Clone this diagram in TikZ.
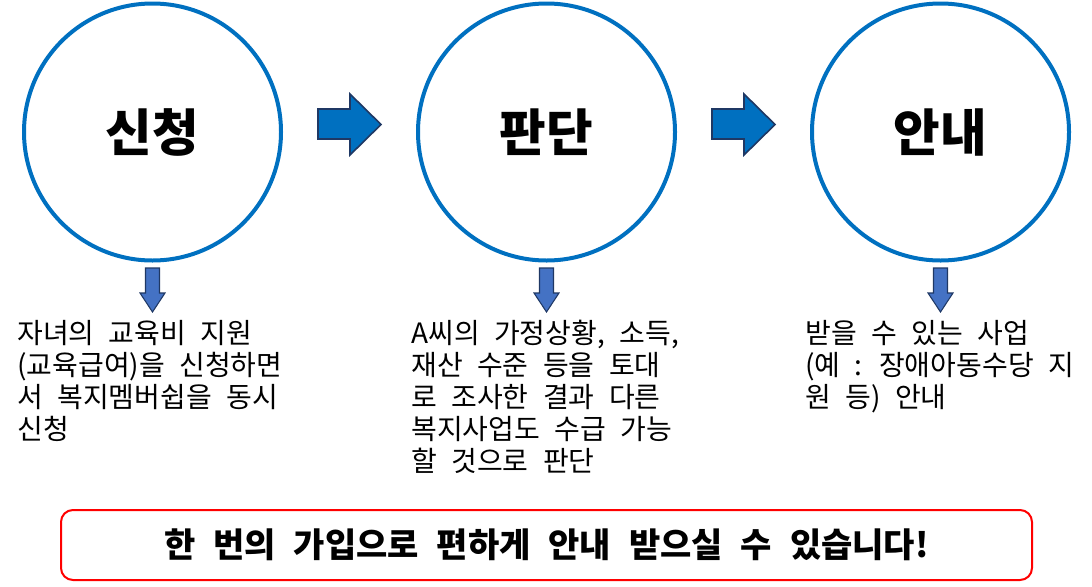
\documentclass[tikz,border=0pt]{standalone}
\usepackage{fontspec}
\setmainfont{Noto Sans CJK KR}[WordSpace=2.3]
\definecolor{cblue}{HTML}{0070C0}
\definecolor{navy}{HTML}{1F3864}
\definecolor{dblue}{HTML}{4472C4}
\definecolor{cred}{HTML}{FF0000}
\tikzset{
  circ/.style={circle, draw=cblue, line width=3pt, minimum size=192.75pt, inner sep=0pt, font=\bfseries\fontsize{38}{40}\selectfont},
  rarrow/.style={fill=cblue, draw=navy, line width=1.2pt, line join=miter},
  darrow/.style={fill=dblue, draw=navy, line width=0.8pt, line join=miter},
  desc/.style={anchor=north west, align=left, inner sep=0pt, font=\fontsize{21}{24}\selectfont},
  banner/.style={draw=cred, line width=1.5pt, rounded corners=9pt, minimum width=728.25pt, minimum height=52.5pt, inner sep=0pt, font=\bfseries\fontsize{25.5}{28}\selectfont}
}
\begin{document}
\begin{tikzpicture}[x=0.75pt, y=-0.75pt]
\useasboundingbox (0,0) rectangle (1092,586);
\node[circ] (c1) at (152.5,132) {신청};
\node[circ] (c2) at (546.5,132) {판단};
\node[circ] (c3) at (940.5,132) {안내};
% right arrows
\foreach \dx in {0,394}{
  \draw[rarrow] (318+\dx,109) -- (350+\dx,109) -- (350+\dx,94) -- (381+\dx,124.5) -- (350+\dx,155) -- (350+\dx,139) -- (318+\dx,139) -- cycle;
}
% down arrows
\foreach \cx in {152.5,546.5,940.5}{
  \draw[darrow] (\cx-7,268) -- (\cx+7,268) -- (\cx+7,293) -- (\cx+12.5,293) -- (\cx,312) -- (\cx-12.5,293) -- (\cx-7,293) -- cycle;
}
\node[desc] (t1) at (17,320) {자녀의 교육비 지원\\(교육급여)을 신청하면\\서 복지멤버쉽을 동시\\신청};
\node[desc] (t2) at (411,320) {A씨의 가정상황, 소득,\\재산 수준 등을 토대\\로 조사한 결과 다른\\복지사업도 수급 가능\\할 것으로 판단};
\node[desc] (t3) at (805,320) {받을 수 있는 사업\\(예 : 장애아동수당 지\\원 등) 안내};
\node[banner] (b) at (546.5,545) {한 번의 가입으로 편하게 안내 받으실 수 있습니다!};
\end{tikzpicture}
\end{document}
